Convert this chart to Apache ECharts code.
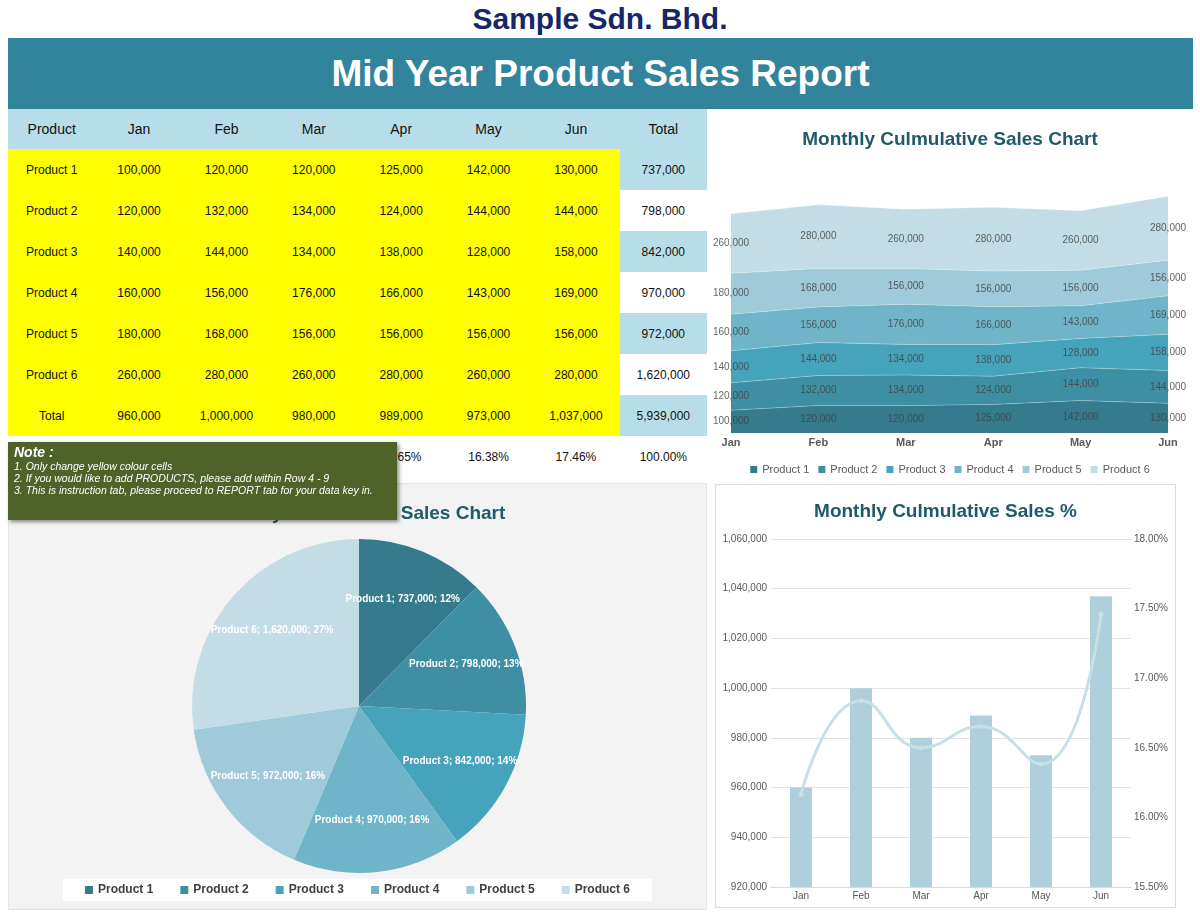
<!DOCTYPE html>
<html><head><meta charset="utf-8">
<script src="https://cdn.jsdelivr.net/npm/echarts@6/dist/echarts.min.js"></script>
<style>
body{margin:0;background:#fff;font-family:'Liberation Sans',Arial,sans-serif;}
#page{position:relative;width:1200px;height:915px;overflow:hidden;background:#fff;}
#company{position:absolute;left:0;top:0;width:1200px;height:38px;line-height:38px;text-align:center;font-size:30px;font-weight:bold;color:#172869;}
#banner{position:absolute;left:8px;top:38px;width:1185px;height:71px;line-height:71px;text-align:center;background:#31849b;color:#fff;font-size:37px;font-weight:bold;}
#tbl{position:absolute;left:8px;top:109px;width:699px;border-collapse:collapse;table-layout:fixed;}
#tbl td{padding:0;text-align:center;color:#111;font-size:12px;height:41px;}
#tbl tr.hdr td{background:#b7dee8;font-size:14px;height:40px;}
#tbl td.y{background:#ffff00;}
#tbl td.b{background:#b7dee8;}
#tbl td.w{background:#fff;}
#area{position:absolute;left:707px;top:109px;width:486px;height:372px;}
#pieWrap{position:absolute;left:8px;top:483px;width:697px;height:425px;background:#f3f3f3;border:1px solid #e4e4e4;}
#pie{width:697px;height:425px;}
#barWrap{position:absolute;left:715px;top:484px;width:459px;height:422px;background:#fff;border:1px solid #dcdcdc;}
#bar{width:459px;height:422px;}
#note{position:absolute;left:8px;top:442px;width:389px;height:78px;background:#4f6228;box-shadow:2px 2px 4px rgba(0,0,0,0.45);color:#fff;font-family:'Liberation Sans Narrow','Liberation Sans',sans-serif;font-style:italic;z-index:10;}
#note .t{position:absolute;left:6px;top:2px;font-size:14px;font-weight:bold;}
#note .l{position:absolute;left:6px;font-size:10.5px;}
</style></head>
<body><div id="page">
<div id="company">Sample Sdn. Bhd.</div>
<div id="banner">Mid Year Product Sales Report</div>
<table id="tbl"></table>
<div id="area"></div>
<div id="pieWrap"><div id="pie"></div></div>
<div id="barWrap"><div id="bar"></div></div>
<div id="note">
  <div class="t">Note :</div>
  <div class="l" style="top:18px">1. Only change yellow colour cells</div>
  <div class="l" style="top:30px">2. If you would like to add PRODUCTS, please add within Row 4 - 9</div>
  <div class="l" style="top:42px">3. This is instruction tab, please proceed to REPORT tab for your data key in.</div>
</div>
</div>
<script>
const months = ['Jan','Feb','Mar','Apr','May','Jun'];
const products = ['Product 1','Product 2','Product 3','Product 4','Product 5','Product 6'];
const product1 = [100000,120000,120000,125000,142000,130000];
const product2 = [120000,132000,134000,124000,144000,144000];
const product3 = [140000,144000,134000,138000,128000,158000];
const product4 = [160000,156000,176000,166000,143000,169000];
const product5 = [180000,168000,156000,156000,156000,156000];
const product6 = [260000,280000,260000,280000,260000,280000];
const colors = ['#367b8d','#3f8fa4','#46a3bc','#6fb4c9','#9fcad9','#c2dde5'];
const leftTicks = [920000,1060000,20000];
const rightTicks = [15.5,18,0.5];

const series = [product1,product2,product3,product4,product5,product6];
const fmt = v => v.toLocaleString('en-US');
const productTotals = series.map(a => a.reduce((s,v)=>s+v,0));
const monthTotals = months.map((m,i)=>series.reduce((s,a)=>s+a[i],0));
const grand = productTotals.reduce((s,v)=>s+v,0);
const monthPct = monthTotals.map(v => v/grand*100);

// table
(function(){
  const t = document.getElementById('tbl');
  let h = '<colgroup>' + '<col style="width:87.375px">'.repeat(8) + '</colgroup>';
  h += '<tr class="hdr"><td>Product</td>' + months.map(m=>'<td>'+m+'</td>').join('') + '<td>Total</td></tr>';
  series.forEach((a,r)=>{
    h += '<tr><td class="y">'+products[r]+'</td>' + a.map(v=>'<td class="y">'+fmt(v)+'</td>').join('') +
         '<td class="'+(r%2===0?'b':'w')+'">'+fmt(productTotals[r])+'</td></tr>';
  });
  h += '<tr><td class="y">Total</td>' + monthTotals.map(v=>'<td class="y">'+fmt(v)+'</td>').join('') + '<td class="b">'+fmt(grand)+'</td></tr>';
  h += '<tr><td class="w"></td>' + monthPct.map(v=>'<td class="w">'+v.toFixed(2)+'%</td>').join('') + '<td class="w">100.00%</td></tr>';
  t.innerHTML = h;
})();

// area chart
(function(){
  const c = echarts.init(document.getElementById('area'));
  const cum = months.map(()=>0);
  const mids = series.map(a => a.map((v,i)=>{const m = cum[i]+v/2; cum[i]+=v; return [i,m,v];}));
  const s = [];
  series.forEach((a,k)=>{
    s.push({type:'line',name:products[k],stack:'all',data:a,symbol:'none',
      lineStyle:{width:1,color:'rgba(255,255,255,0.25)'},itemStyle:{color:colors[k]},
      areaStyle:{color:colors[k],opacity:1},z:2});
  });
  mids.forEach((d,k)=>{
    s.push({type:'scatter',name:'lbl'+k,data:d,symbolSize:0,silent:true,z:5,
      label:{show:true,position:'inside',formatter:p=>fmt(p.value[2]),color:'#404040',fontSize:10,fontFamily:'Liberation Sans'}});
  });
  c.setOption({
    animation:false,
    title:{text:'Monthly Culmulative Sales Chart',left:'center',top:16,textStyle:{color:'#1e5a69',fontSize:19,fontWeight:'bold',fontFamily:'Liberation Sans'}},
    legend:{data:products,top:350,left:'center',icon:'rect',itemWidth:7,itemHeight:7,itemGap:9,
      textStyle:{color:'#595959',fontSize:11,fontFamily:'Liberation Sans'}},
    grid:{left:24,right:25,top:50,bottom:48},
    xAxis:{type:'category',data:months,boundaryGap:false,axisLine:{show:false},axisTick:{show:false},
      axisLabel:{color:'#595959',fontWeight:'bold',fontSize:11,margin:4}},
    yAxis:{type:'value',min:0,max:1200000,show:false},
    series:s
  });
})();

// pie
(function(){
  const c = echarts.init(document.getElementById('pie'));
  const cx = 350, cy = 222;
  c.setOption({
    animation:false,
    title:{text:'Monthly Culmulative Sales Chart',left:'center',top:15,textStyle:{color:'#1e5a69',fontSize:19,fontWeight:'bold',fontFamily:'Liberation Sans'}},
    legend:{data:products,top:395,left:'center',icon:'rect',itemWidth:8,itemHeight:8,itemGap:27,
      backgroundColor:'#ffffff',padding:[5,22],
      textStyle:{color:'#404040',fontSize:12,fontWeight:'bold',fontFamily:'Liberation Sans'}},
    color:colors,
    series:[{type:'pie',center:[cx,cy],radius:167,startAngle:90,clockwise:true,
      data:products.map((p,i)=>({name:p,value:productTotals[i]})),
      label:{show:true,position:'inside',color:'#fff',fontWeight:'bold',fontSize:10,fontFamily:'Liberation Sans',
        formatter:p=>p.name+'; '+fmt(p.value)+'; '+Math.round(p.percent)+'%'},
      labelLine:{show:false},
      labelLayout:function(params){
        const r = params.labelRect;
        const lx = r.x + r.width/2, ly = r.y + r.height/2;
        return {dx:(lx-cx)*0.33, dy:(ly-cy)*0.33};
      }
    }]
  });
})();

// bar + line
(function(){
  const c = echarts.init(document.getElementById('bar'));
  c.setOption({
    animation:false,
    title:{text:'Monthly Culmulative Sales %',left:'center',top:12,textStyle:{color:'#1e5a69',fontSize:19,fontWeight:'bold',fontFamily:'Liberation Sans'}},
    grid:{left:55,right:44,top:54,bottom:20},
    xAxis:{type:'category',data:months,axisLine:{lineStyle:{color:'#d9d9d9'}},axisTick:{show:false},
      axisLabel:{color:'#595959',fontSize:10,margin:4}},
    yAxis:[
      {type:'value',min:leftTicks[0],max:leftTicks[1],interval:leftTicks[2],
        axisLabel:{color:'#595959',fontSize:10,formatter:v=>fmt(v),margin:4},
        splitLine:{lineStyle:{color:'#e3e3e3'}},axisLine:{show:false},axisTick:{show:false}},
      {type:'value',min:rightTicks[0],max:rightTicks[1],interval:rightTicks[2],position:'right',
        axisLabel:{color:'#595959',fontSize:10,formatter:v=>v.toFixed(2)+'%',margin:3},
        splitLine:{show:false},axisLine:{show:false},axisTick:{show:false}}
    ],
    series:[
      {type:'bar',data:monthTotals,barWidth:22,itemStyle:{color:'#aecfdb'},yAxisIndex:0},
      {type:'line',data:monthPct,yAxisIndex:1,smooth:0.5,symbol:'circle',symbolSize:5,
        lineStyle:{color:'#c6e0e8',width:3},itemStyle:{color:'#c6e0e8'},z:5}
    ]
  });
})();
</script>
</body></html>
